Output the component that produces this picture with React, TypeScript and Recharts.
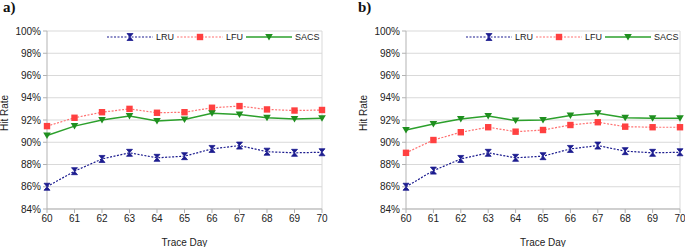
import { LineChart, Line, XAxis, YAxis, CartesianGrid, ReferenceLine } from "recharts";

const days = [60, 61, 62, 63, 64, 65, 66, 67, 68, 69, 70];
const yTicks = [84, 86, 88, 90, 92, 94, 96, 98, 100];

// panel a)
const lruA = [86.0, 87.4, 88.5, 89.05, 88.6, 88.75, 89.4, 89.7, 89.15, 89.05, 89.1];
const lfuA = [91.45, 92.2, 92.7, 93.0, 92.65, 92.7, 93.1, 93.25, 92.95, 92.85, 92.9];
const sacsA = [90.6, 91.45, 92.0, 92.35, 91.9, 92.05, 92.6, 92.5, 92.2, 92.1, 92.15];

// panel b)
const lruB = [86.0, 87.45, 88.5, 89.05, 88.6, 88.75, 89.4, 89.7, 89.2, 89.05, 89.1];
const lfuB = [89.05, 90.2, 90.9, 91.35, 90.95, 91.1, 91.55, 91.8, 91.4, 91.35, 91.35];
const sacsB = [91.1, 91.65, 92.1, 92.35, 91.95, 92.0, 92.4, 92.6, 92.2, 92.15, 92.15];

const NAVY = "#1c1c8f";
const RED = "#ff4040";
const PINK = "#ff7070";
const GREEN = "#1f8f1f";
const GRID = "#d9d9d9";
const AXIS = "#b3b3b3";
const FONT = "'Liberation Sans', Arial, sans-serif";

const Hourglass = ({ cx, cy, size = 3 }: any) => (
  <path
    d={`M${cx - size},${cy - 3.5} L${cx + size},${cy - 3.5} L${cx - size},${cy + 3.5} L${cx + size},${cy + 3.5} Z`}
    fill={NAVY}
    stroke={NAVY}
    strokeWidth={0.8}
  />
);
const Square = ({ cx, cy }: any) => <rect x={cx - 3.2} y={cy - 3.2} width={6.4} height={6.4} fill={RED} />;
const Tri = ({ cx, cy }: any) => (
  <path d={`M${cx - 3.8},${cy - 3} L${cx + 3.8},${cy - 3} L${cx},${cy + 3.5} Z`} fill={GREEN} />
);

const LegendItem = ({ kind, name }: { kind: string; name: string }) => {
  const stroke = kind === "lru" ? NAVY : kind === "lfu" ? PINK : "#2ca02c";
  return (
    <div style={{ display: "flex", alignItems: "center", marginRight: 3 }}>
      <svg width={46} height={10} style={{ marginRight: 3 }}>
        <line
          x1={0}
          y1={5}
          x2={46}
          y2={5}
          stroke={stroke}
          strokeWidth={kind === "sacs" ? 1.5 : 1.2}
          strokeDasharray={kind === "sacs" ? undefined : "2 1.5"}
        />
        {kind === "lru" && <Hourglass cx={23} cy={5} />}
        {kind === "lfu" && <Square cx={23} cy={5} />}
        {kind === "sacs" && <Tri cx={23} cy={5} />}
      </svg>
      <span>{name}</span>
    </div>
  );
};

type PanelProps = { tag: string; left: number; width: number; right: number; lru: number[]; lfu: number[]; sacs: number[] };

const Panel = ({ tag, left, width, right, lru, lfu, sacs }: PanelProps) => {
  const data = days.map((d, i) => ({ day: d, lru: lru[i], lfu: lfu[i], sacs: sacs[i] }));
  return (
    <div style={{ position: "absolute", left, top: 0, width, height: 247 }}>
      <LineChart width={width} height={247} data={data} margin={{ top: 31, right, bottom: 0, left: 0 }}>
        <CartesianGrid vertical={false} stroke={GRID} />
        <ReferenceLine x={70} stroke={GRID} />
        <XAxis
          dataKey="day"
          type="number"
          domain={[60, 70]}
          ticks={days}
          interval={0}
          height={38}
          stroke={AXIS}
          tickSize={4}
          tick={{ fill: "#222", fontSize: 10, fontFamily: FONT }}
          label={{ value: "Trace Day", position: "insideBottom", offset: 1, fill: "#222", fontSize: 10, fontFamily: FONT }}
        />
        <YAxis
          domain={[84, 100]}
          ticks={yTicks}
          interval={0}
          width={47}
          stroke={AXIS}
          tickSize={4}
          tickFormatter={(v: number) => `${v}%`}
          tick={{ fill: "#222", fontSize: 10, fontFamily: FONT }}
        />
        <Line
          dataKey="lru"
          stroke={NAVY}
          strokeWidth={1.2}
          strokeDasharray="2 1.5"
          isAnimationActive={false}
          dot={(p: any) => <Hourglass key={`l${p.index}`} cx={p.cx} cy={p.cy} />}
        />
        <Line
          dataKey="lfu"
          stroke={PINK}
          strokeWidth={1.2}
          strokeDasharray="2 1.5"
          isAnimationActive={false}
          dot={(p: any) => <Square key={`f${p.index}`} cx={p.cx} cy={p.cy} />}
        />
        <Line
          dataKey="sacs"
          stroke="#2ca02c"
          strokeWidth={1.5}
          isAnimationActive={false}
          dot={(p: any) => <Tri key={`s${p.index}`} cx={p.cx} cy={p.cy} />}
        />
      </LineChart>
      <div
        style={{
          position: "absolute",
          left: 107,
          top: 32,
          display: "flex",
          fontSize: 9,
          fontFamily: FONT,
          color: "#222",
          lineHeight: "10px",
        }}
      >
        <LegendItem kind="lru" name="LRU" />
        <LegendItem kind="lfu" name="LFU" />
        <LegendItem kind="sacs" name="SACS" />
      </div>
      <div
        style={{
          position: "absolute",
          left: -25,
          top: 107,
          width: 60,
          height: 12,
          lineHeight: "12px",
          textAlign: "center",
          transform: "rotate(-90deg)",
          fontSize: 10,
          fontFamily: FONT,
          color: "#222",
        }}
      >
        Hit Rate
      </div>
      <div
        style={{
          position: "absolute",
          left: tag === "a)" ? 3 : -1,
          top: -1,
          fontSize: 15,
          fontWeight: "bold",
          fontFamily: "'Liberation Serif', 'Times New Roman', serif",
          color: "#111",
        }}
      >
        {tag}
      </div>
    </div>
  );
};

export default function App() {
  return (
    <div style={{ position: "absolute", left: 0, top: 0, width: 685, height: 247, background: "#fff", overflow: "hidden" }}>
      <Panel tag="a)" left={0} width={342} right={20} lru={lruA} lfu={lfuA} sacs={sacsA} />
      <Panel tag="b)" left={359} width={326} right={5} lru={lruB} lfu={lfuB} sacs={sacsB} />
    </div>
  );
}
